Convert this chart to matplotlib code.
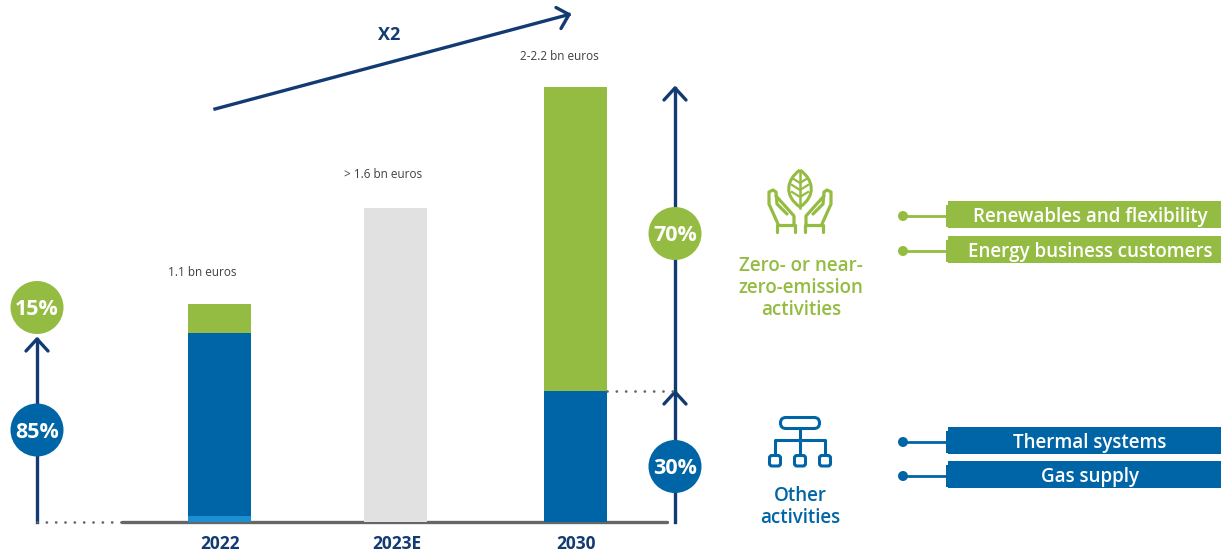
import matplotlib; matplotlib.use("Agg")
import matplotlib.pyplot as plt
from matplotlib.patches import Circle, FancyBboxPatch, PathPatch, Rectangle
from matplotlib.path import Path

# values in bn euros
years = ["2022", "2023E", "2030"]
base_light = [0.03, 0, 0]
other = [0.925, 0, 0.66]
grey = [0, 1.585, 0]
zero = [0.145, 0, 1.535]
totals = ["1.1 bn euros", "> 1.6 bn euros", "2-2.2 bn euros"]
share_2022 = ["85%", "15%"]
share_2030 = ["30%", "70%"]
green_items = ["Renewables and flexibility", "Energy business customers"]
blue_items = ["Thermal systems", "Gas supply"]

GREEN = "#95BC42"
BLUE = "#0065A6"
LIGHT = "#1B8FD0"
NAVY = "#123A73"
GREY = "#666666"
W, H = 1221, 552
BASE = 522
PX_PER_BN = 198
BAR_X = [219.5, 395.5, 575.5]

plt.rcParams["font.family"] = ["Open Sans", "DejaVu Sans"]

fig = plt.figure(figsize=(W / 100, H / 100), dpi=100)
ax = fig.add_axes([0, 0, 1, 1])
ax.set_xlim(0, W)
ax.set_ylim(-(H - BASE) / PX_PER_BN, BASE / PX_PER_BN)
ax.axis("off")

# overlay in pixel coords for arrows, icons and labels
ov = fig.add_axes([0, 0, 1, 1], zorder=3)
ov.set_xlim(0, W)
ov.set_ylim(H, 0)
ov.axis("off")
ov.patch.set_alpha(0)

ax.plot([122, 667], [0, 0], color=GREY, lw=2.4, solid_capstyle="round", zorder=1)

b = [0, 0, 0]
for vals, col in [(base_light, LIGHT), (other, BLUE), (grey, "#E1E1E1"), (zero, GREEN)]:
    ax.bar(BAR_X, vals, width=63, bottom=b, color=col, zorder=2)
    b = [p + v for p, v in zip(b, vals)]


def arrow(x0, y0, x1, y1, a, c):
    ov.plot([x0, x1], [y0, y1], color=NAVY, lw=2.4, zorder=2)
    ov.plot([a[0], x1, c[0]], [a[1], y1, c[1]], color=NAVY, lw=2.4,
            solid_capstyle="round", solid_joinstyle="round", zorder=2)


def bubble(x, y, txt, col):
    ov.add_patch(Circle((x, y), 26.5, color=col, lw=0, zorder=4))
    ov.text(x, y + 2, txt, color="white", fontsize=15.5, fontweight="bold",
            ha="center", va="center", zorder=5)


def dots(x0, x1, y):
    ov.plot([x0, x1], [y, y], color=GREY, lw=2, linestyle=(0, (0.01, 3.35)),
            dash_capstyle="round", zorder=3)


arrow(215, 109, 569, 14.5, (556, 7.5), (561, 28.5))
ov.text(389, 35, "X2", color=NAVY, fontsize=13, fontweight="bold", ha="center", va="center")

arrow(37, 522, 37, 339, (26, 351), (48, 351))
arrow(675, 522, 675, 392, (664, 404), (686, 404))
arrow(675, 392, 675, 88, (664, 100), (686, 100))
dots(37, 122, 522)
dots(607, 675, 391)

bubble(37, 430, share_2022[0], BLUE)
bubble(37, 307.5, share_2022[1], GREEN)
bubble(675, 466.5, share_2030[0], BLUE)
bubble(675, 233.5, share_2030[1], GREEN)

for x, lab in zip(BAR_X, years):
    ov.text(x + 1, 544, lab, color=NAVY, fontsize=12.5, fontweight="bold", ha="center", va="center")
for x, y, lab in zip([202, 383, 559], [272, 175, 56], totals):
    ov.text(x, y, lab, color="#404040", fontsize=8.5, ha="center", va="center")

# leaf + hands icon
leaf = Path([(800, 170), (786, 180), (784, 196), (800, 207), (816, 196), (814, 180), (800, 170)],
            [Path.MOVETO, Path.CURVE4, Path.CURVE4, Path.CURVE4, Path.CURVE4, Path.CURVE4, Path.CURVE4])
ov.add_patch(PathPatch(leaf, fill=False, ec=GREEN, lw=2.2))
ov.plot([800, 800], [172, 208], color=GREEN, lw=1.8)
for dy in [183, 190, 197]:
    ov.plot([792, 800, 808], [dy - 5, dy, dy - 5], color=GREEN, lw=1.6)
for s in [-1, 1]:
    hand = [(-22, 224), (-31, 204), (-31, 192), (-27, 190), (-24, 192), (-23, 204), (-13, 214)]
    inner = [(-6, 224), (-6, 216), (-14, 207), (-24, 196)]
    cuff = [(-23, 232), (-23, 225), (-5, 225), (-5, 232)]
    for pts in [hand, inner, cuff]:
        ov.plot([800 + s * p[0] for p in pts], [p[1] for p in pts], color=GREEN, lw=2.3,
                solid_joinstyle="round", solid_capstyle="round")

# network icon
ov.add_patch(FancyBboxPatch((780.5, 417.5), 39, 11, boxstyle="round,pad=0,rounding_size=5.5",
                            fill=False, ec=BLUE, lw=2.2))
ov.plot([800, 800], [429, 455], color=BLUE, lw=2.2)
ov.plot([775, 775, 825, 825], [455, 439.5, 439.5, 455], color=BLUE, lw=2.2)
for x in [775, 800, 825]:
    ov.add_patch(FancyBboxPatch((x - 5.5, 455.5), 11, 10.5, boxstyle="round,pad=0,rounding_size=2.5",
                                fc="white", ec=BLUE, lw=2.2, zorder=3))

for y, t in zip([266, 288, 310], ["Zero- or near-", "zero-emission", "activities"]):
    ov.text(801, y, t, color=GREEN, fontsize=13.5, fontweight="semibold", ha="center", va="center")
for y, t in zip([496, 518], ["Other", "activities"]):
    ov.text(800, y, t, color=BLUE, fontsize=13.5, fontweight="semibold", ha="center", va="center")


def tag(y0, y1, txt, col):
    ym = (y0 + y1) / 2
    ov.add_patch(Rectangle((948, y0), W - 948, y1 - y0, color=col, lw=0))
    ov.add_patch(Rectangle((946, y0 + 4), 3, y1 - y0 - 5, color=col, lw=0))
    ov.plot([903, 946], [ym + 1.5, ym + 1.5], color=col, lw=2)
    ov.add_patch(Circle((903, ym + 1.5), 5, color=col, lw=0))
    ov.text(1090, ym + 2.5, txt, color="white", fontsize=13.5, fontweight="semibold", ha="center", va="center")


tag(201, 228, green_items[0], GREEN)
tag(236, 263, green_items[1], GREEN)
tag(427, 454, blue_items[0], BLUE)
tag(461, 488, blue_items[1], BLUE)

fig.savefig("out.png", dpi=100)
plt.close()
